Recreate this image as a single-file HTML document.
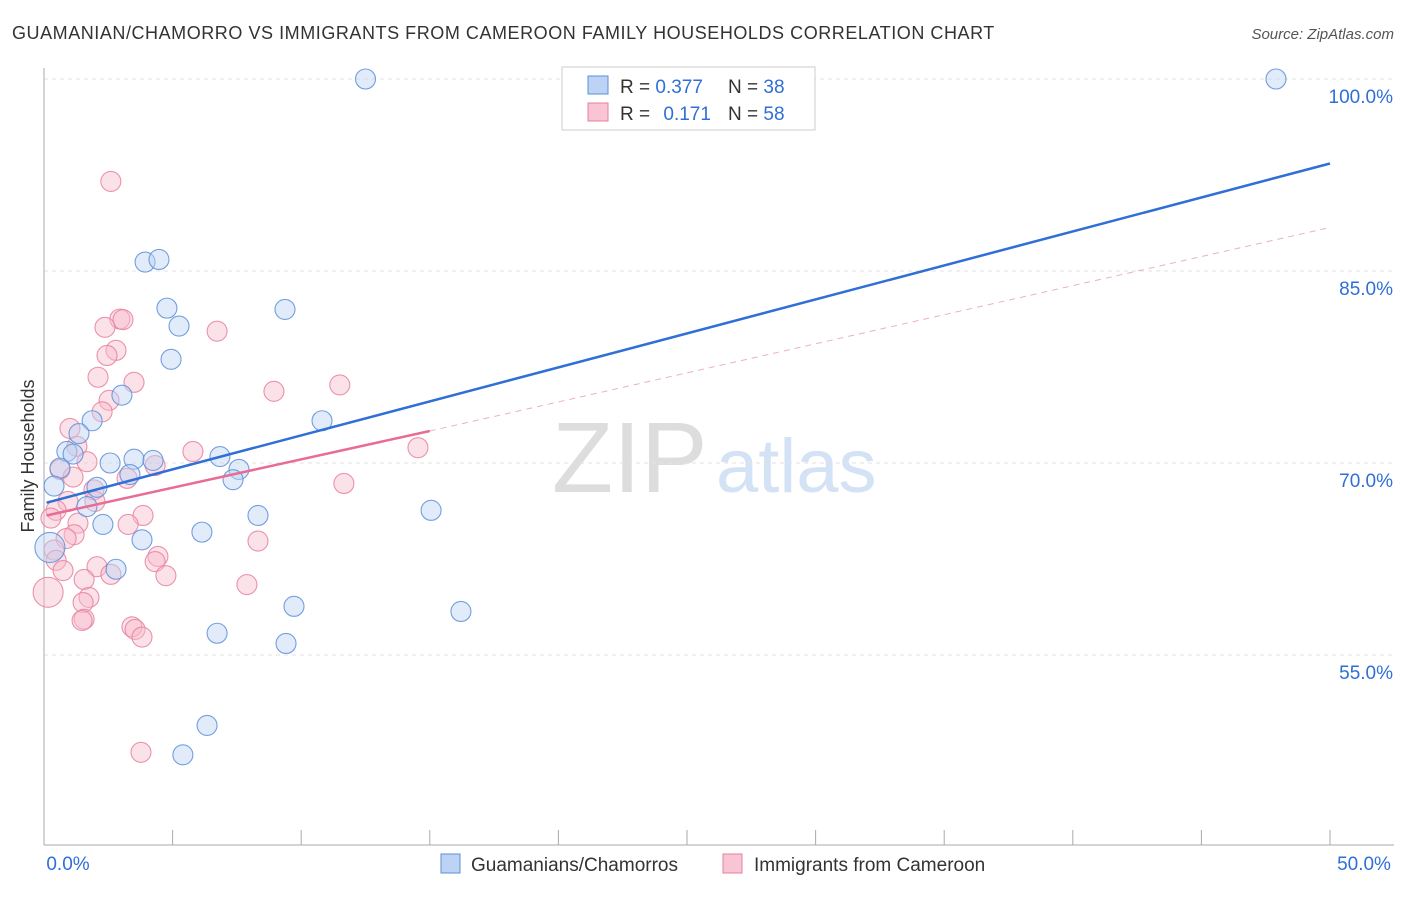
<!DOCTYPE html>
<html><head><meta charset="utf-8"><style>
body{margin:0;background:#fff;font-family:"Liberation Sans",sans-serif}
svg text{font-family:"Liberation Sans",sans-serif}
</style></head><body>
<svg id="c" width="1406" height="892">
<text x="12" y="39" font-size="18" fill="#333" letter-spacing="0.55">GUAMANIAN/CHAMORRO VS IMMIGRANTS FROM CAMEROON FAMILY HOUSEHOLDS CORRELATION CHART</text>
<text x="1394" y="39" font-size="15" fill="#555" font-style="italic" text-anchor="end">Source: ZipAtlas.com</text>
<text x="0" y="0" transform="translate(34,456) rotate(-90)" font-size="18" fill="#333" text-anchor="middle">Family Households</text>
<g><text x="552" y="492" font-size="100" font-family="Liberation Serif,serif" fill="#ddd">ZIP</text><text x="716" y="492" font-size="76" fill="#d3e2f4">atlas</text></g>
<g id="grid"></g><g id="axes"></g><g id="pts"></g><g id="lines"></g>
<g>
<rect x="562" y="67" width="253" height="63" fill="#fff" stroke="#ccc"/>
<rect x="588" y="76" width="20" height="18" fill="#bcd3f5" stroke="#5b8fd9"/>
<rect x="588" y="103" width="20" height="18" fill="#f9c4d3" stroke="#e57f9e"/>
<text x="620" y="93" font-size="19" fill="#333">R = <tspan fill="#2f6fd6">0.377</tspan></text><text x="728" y="93" font-size="19" fill="#333">N = <tspan fill="#2f6fd6">38</tspan></text>
<text x="620" y="120" font-size="19" fill="#333">R = <tspan fill="#2f6fd6" dx="8">0.171</tspan></text><text x="728" y="120" font-size="19" fill="#333">N = <tspan fill="#2f6fd6">58</tspan></text>
</g>
<g>
<rect x="441" y="854" width="19" height="19" fill="#bcd3f5" stroke="#5b8fd9"/><text x="471" y="871" font-size="19" fill="#333">Guamanians/Chamorros</text>
<rect x="723" y="854" width="19" height="19" fill="#f9c4d3" stroke="#e57f9e"/><text x="754" y="871" font-size="19" fill="#333">Immigrants from Cameroon</text>
</g>
</svg>
<script>
const blueX=[12.5,47.9,3.93,4.47,4.78,9.37,5.25,4.94,3.03,10.81,1.87,1.36,0.89,1.13,0.62,2.57,3.5,4.24,6.84,7.58,7.35,3.34,0.39,2.06,1.67,2.29,8.32,15.05,6.14,3.81,0.23,2.8,9.72,16.21,6.73,9.41,6.34,5.4];
const blueY=[100,100,85.7,85.9,82.1,82.0,80.7,78.1,75.3,73.3,73.3,72.3,70.9,70.7,69.6,70.0,70.3,70.2,70.5,69.5,68.7,69.1,68.2,68.1,66.6,65.2,65.9,66.3,64.6,64.0,63.4,61.7,58.8,58.4,56.7,55.9,49.5,47.2];
const pinkX=[2.6,2.95,3.07,2.37,6.73,2.8,2.45,2.1,3.5,11.5,8.94,2.53,2.26,1.01,1.28,5.79,14.54,1.67,4.32,0.62,1.13,3.23,11.66,1.94,0.93,1.98,0.47,0.27,3.85,1.32,3.27,1.17,0.86,8.32,0.39,0.47,4.43,4.32,0.74,2.06,2.6,4.74,1.56,7.89,0.16,1.75,1.52,1.56,1.48,3.42,3.54,3.81,3.77];
const pinkY=[92,81.25,81.2,80.6,80.3,78.8,78.4,76.7,76.3,76.1,75.6,74.9,74.0,72.7,71.3,70.9,71.2,70.1,69.8,69.5,68.9,68.8,68.4,67.9,67.0,67.0,66.3,65.7,65.9,65.3,65.2,64.4,64.1,63.9,63.2,62.4,62.7,62.3,61.6,61.9,61.3,61.2,60.9,60.5,59.9,59.5,59.1,57.8,57.7,57.2,57.0,56.4,47.4];
const blueTrend=[[0.1,66.9],[50,93.4]];
const pinkTrend=[[0.1,65.9],[15,72.5],[50,88.4]];
const yTicks=[100,85,70,55];
const xTickLabels=["0.0%","50.0%"];
const X=v=>44+v*25.72, Y=v=>79+(100-v)*12.8;
const NS="http://www.w3.org/2000/svg";
function mk(t,a,p){const e=document.createElementNS(NS,t);for(const k in a)e.setAttribute(k,a[k]);document.getElementById(p).appendChild(e);return e;}
yTicks.forEach(v=>{
 const l=mk('line',{x1:44,x2:1394,y1:Y(v),y2:Y(v),stroke:'#e2e2e2','stroke-dasharray':'4,4'},'grid');
 
 
 const t=mk('text',{x:1393,y:Y(v)+24,'font-size':19,fill:'#2f6fd6','text-anchor':'end'},'grid');t.textContent=v.toFixed(1)+'%';
 
 
});
const ax=mk('line',{x1:44,x2:44,y1:68,y2:845,stroke:'#aaa'},'axes');


const bx=mk('line',{x1:44,x2:1394,y1:845,y2:845,stroke:'#aaa'},'axes');


for(let i=0;i<=10;i++){const t=mk('line',{x1:X(i*5),x2:X(i*5),y1:830,y2:845,stroke:'#aaa'},'axes');
 
 }
[[X(0)+24,'middle'],[X(50)+34,'middle']].forEach((p,i)=>{const t=mk('text',{x:p[0],y:870,'font-size':19,fill:'#2f6fd6','text-anchor':p[1]},'axes');t.textContent=xTickLabels[i];
 
 });
function dots(xs,ys,f,s,n){xs.forEach((x,i)=>{const r=(x<0.25)?15:10;const c=mk('circle',{cx:X(x),cy:Y(ys[i]),r:r,fill:f,'fill-opacity':0.45,stroke:s,'stroke-opacity':0.85,'stroke-width':1.1},'pts');
 
 });}
dots(pinkX,pinkY,'#f7bccd','#e8809f','point-cameroon');
dots(blueX,blueY,'#bcd3f5','#5b8fd9','point-guamanian');
const bl=mk('line',{x1:X(blueTrend[0][0]),y1:Y(blueTrend[0][1]),x2:X(blueTrend[1][0]),y2:Y(blueTrend[1][1]),stroke:'#2f6fd6','stroke-width':2.5},'lines');


const pl=mk('line',{x1:X(pinkTrend[0][0]),y1:Y(pinkTrend[0][1]),x2:X(pinkTrend[1][0]),y2:Y(pinkTrend[1][1]),stroke:'#e86c93','stroke-width':2.5},'lines');


const pd=mk('line',{x1:X(pinkTrend[1][0]),y1:Y(pinkTrend[1][1]),x2:X(pinkTrend[2][0]),y2:Y(pinkTrend[2][1]),stroke:'#eab0c2','stroke-width':1,'stroke-dasharray':'6,5'},'lines');


</script>
</body></html>
